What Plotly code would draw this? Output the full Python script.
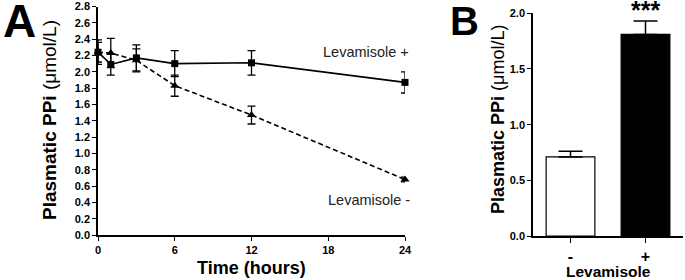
import plotly.graph_objects as go

# Panel A data
time_h = [0, 1, 3, 6, 12, 24]
lev_plus = [2.24, 2.09, 2.17, 2.10, 2.11, 1.87]
lev_plus_err = [0.12, 0.13, 0.16, 0.16, 0.15, 0.13]
lev_minus = [2.24, 2.23, 2.14, 1.83, 1.47, 0.68]
lev_minus_err = [0.15, 0.18, 0.14, 0.13, 0.11, 0.03]
x_ticks_a = [0, 6, 12, 18, 24]
y_ticks_a = [0.0, 0.2, 0.4, 0.6, 0.8, 1.0, 1.2, 1.4, 1.6, 1.8, 2.0, 2.2, 2.4, 2.6, 2.8]

# Panel B data
groups = ["-", "+"]
ppi_b = [0.71, 1.81]
ppi_b_err = [0.05, 0.12]
y_ticks_b = [0.0, 0.5, 1.0, 1.5, 2.0]

W, H = 685, 280
FONT = "Liberation Sans, Arial, sans-serif"

def px(x):
    return x / W

def py(y):
    return 1 - y / H

fig = go.Figure()

fig.add_trace(go.Scatter(
    x=time_h, y=lev_plus, mode="lines+markers",
    line=dict(color="black", width=1.6),
    marker=dict(symbol="square", size=7, color="black"),
    error_y=dict(type="data", array=lev_plus_err, color="black", thickness=1.3, width=4),
    cliponaxis=False, showlegend=False, xaxis="x", yaxis="y"))
fig.add_trace(go.Scatter(
    x=time_h, y=lev_minus, mode="lines+markers",
    line=dict(color="black", width=1.6, dash="5px,3px"),
    marker=dict(symbol="triangle-up", size=8, color="black"),
    error_y=dict(type="data", array=lev_minus_err, color="black", thickness=1.3, width=4),
    cliponaxis=False, showlegend=False, xaxis="x", yaxis="y"))

fig.add_trace(go.Bar(
    x=groups, y=ppi_b,
    marker=dict(color=["white", "black"], line=dict(color="black", width=1.2)),
    width=0.65,
    error_y=dict(type="data", array=ppi_b_err, arrayminus=[0, 0], symmetric=False,
                 color="black", thickness=1.5, width=12),
    cliponaxis=False, showlegend=False, xaxis="x2", yaxis="y2"))

tickfont = dict(family=FONT, size=11, color="black", weight="bold")
common = dict(showline=True, linecolor="black", linewidth=1.6, ticks="outside",
              tickwidth=1.3, tickcolor="black", showgrid=False, zeroline=False,
              automargin=False)

fig.update_layout(
    width=W, height=H,
    margin=dict(l=0, r=0, t=0, b=0, pad=0, autoexpand=False),
    paper_bgcolor="white", plot_bgcolor="white",
    font=dict(family=FONT, color="black"),
    xaxis=dict(domain=[px(98), px(405)], range=[0, 24], tickvals=x_ticks_a,
               ticklen=4, tickfont=tickfont, anchor="y", **common),
    yaxis=dict(domain=[py(235), py(6.5)], range=[0, 2.8], tickvals=y_ticks_a,
               ticktext=[f"{v:.1f}" for v in y_ticks_a],
               ticklen=4, tickfont=tickfont, anchor="x", **common),
    xaxis2=dict(domain=[px(533), px(683)], range=[-0.5, 1.5], type="category",
                ticklen=5, tickfont=dict(family=FONT, size=16, color="black", weight="bold"),
                anchor="y2", **common),
    yaxis2=dict(domain=[py(236), py(13.3)], range=[0, 2.0], tickvals=y_ticks_b,
                ticktext=[f"{v:.1f}" for v in y_ticks_b],
                ticklen=4, tickfont=tickfont, anchor="x2", **common),
)

def note(text, x, y, size, angle=0, color="black"):
    return dict(text=text, x=px(x), y=py(y), xref="paper", yref="paper",
                xanchor="center", yanchor="middle", showarrow=False, textangle=angle,
                font=dict(family=FONT, size=size, color=color))

ann = [
    note("<b>A</b>", 19, 21, 46),
    note("<b>B</b>", 465, 21, 40),
    note("<b>Plasmatic PPi</b> (μmol/L)", 49, 120, 19, angle=-90),
    note("<b>Plasmatic PPi</b> (μmol/L)", 498, 120, 18, angle=-90),
    note("<b>Time (hours)</b>", 252, 268, 18),
    note("<b>Levamisole</b>", 608, 271, 15.5),
    note("Levamisole +", 366, 52, 14.5, color="#222"),
    note("Levamisole -", 369, 200, 14.5, color="#222"),
    dict(text="<b>***</b>", x="+", y=ppi_b[1] + ppi_b_err[1], xref="x2", yref="y2",
         xanchor="center", yanchor="middle", showarrow=False, yshift=11,
         font=dict(family=FONT, size=25, color="black")),
]
fig.update_layout(annotations=ann)

fig.write_html("out.html", config={"displayModeBar": False},
               post_script="document.body.style.margin='0';")
